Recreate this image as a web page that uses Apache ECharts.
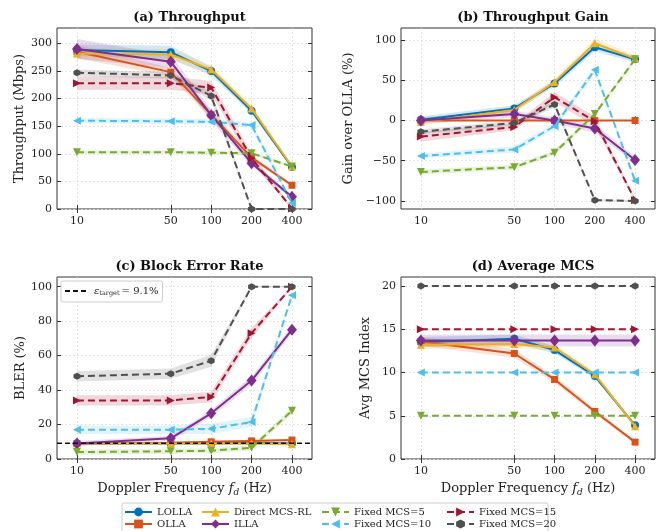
<!DOCTYPE html>
<html>
<head>
<meta charset="utf-8">
<script src="https://cdn.jsdelivr.net/npm/echarts@6/dist/echarts.min.js"></script>
<style>
html, body { margin: 0; padding: 0; background: #fff; }
#chart { width: 659px; height: 531px; }
</style>
</head>
<body>
<div id="chart"></div>
<script>
var freq = [10, 50, 100, 200, 400];
var methods = ['LOLLA', 'OLLA', 'Direct MCS-RL', 'ILLA', 'Fixed MCS=5', 'Fixed MCS=10', 'Fixed MCS=15', 'Fixed MCS=20'];

// (a) throughput in Mbps, one row per method
var throughput = [
    [288, 284, 250, 178, 76],
    [285, 248, 171, 93, 43],
    [282, 280, 253, 182, 77],
    [290, 267, 170, 83, 22],
    [103, 103, 102, 101, 77],
    [160, 159, 158, 152, 11],
    [228, 228, 220, 92, 1],
    [247, 242, 205, 0, 0]
];
var throughputSpread = [
    [10, 12, 8, 5, 3], [12, 8, 8, 5, 3], [10, 10, 8, 6, 3], [18, 12, 10, 6, 4],
    [3, 3, 3, 3, 3], [5, 5, 5, 5, 3], [12, 12, 12, 8, 2], [6, 6, 8, 2, 1]
];
// (b) gain over OLLA in %
var gain = [
    [1, 15, 46, 91, 76],
    [0, 0, 0, 0, 0],
    [-2, 13, 48, 96, 77],
    [0, 8, 0, -10, -49],
    [-64, -58, -40, 8, 76],
    [-44, -36, -7, 63, -75],
    [-20, -8, 29, -1, -99],
    [-14, -3, 20, -99, -100]
];
var gainSpread = [
    [4, 4, 4, 5, 4], [0, 0, 0, 0, 0], [4, 4, 4, 6, 4], [4, 4, 4, 5, 4],
    [3, 3, 3, 3, 3], [3, 4, 4, 4, 3], [6, 4, 6, 6, 2], [3, 3, 4, 1, 1]
];
// (c) BLER in %
var bler = [
    [9, 9, 9, 9.3, 9],
    [9, 9.5, 10, 10.5, 11],
    [9, 9, 9, 9, 8.5],
    [9, 12, 26.5, 45.5, 75],
    [4, 4.5, 4.8, 6.5, 28],
    [17, 17, 17.5, 21.5, 95],
    [34, 34, 36, 73, 100],
    [48, 49.5, 57, 100, 100]
];
var blerSpread = [
    [0.5, 0.5, 0.5, 0.5, 0.5], [0.6, 0.6, 0.6, 0.6, 0.6], [0.5, 0.5, 0.5, 0.5, 0.5], [1.5, 1.5, 2, 2.5, 2],
    [1.5, 1.5, 1.5, 1.5, 2], [2.5, 2.5, 3, 3, 1], [3, 3, 3, 3, 0.5], [3, 3, 3.5, 0.5, 0.5]
];
var blerTarget = 9.1;
// (d) average MCS index
var mcs = [
    [13.5, 13.9, 12.6, 9.6, 3.9],
    [13.6, 12.2, 9.2, 5.5, 1.95],
    [13.2, 13.3, 12.9, 9.8, 3.8],
    [13.7, 13.7, 13.7, 13.7, 13.7],
    [5, 5, 5, 5, 5],
    [10, 10, 10, 10, 10],
    [15, 15, 15, 15, 15],
    [20, 20, 20, 20, 20]
];
var mcsSpread = [
    [0.6, 0.5, 0.4, 0.3, 0.2], [0.5, 0.5, 0.4, 0.3, 0.2], [0.5, 0.5, 0.4, 0.3, 0.2], [0.7, 0.7, 0.7, 0.7, 0.7],
    [0, 0, 0, 0, 0], [0, 0, 0, 0, 0], [0, 0, 0, 0, 0], [0, 0, 0, 0, 0]
];

var xTicks = [10, 50, 100, 200, 400];
var yTicksA = [0, 50, 100, 150, 200, 250, 300];
var yTicksB = [-100, -50, 0, 50, 100];
var yTicksC = [0, 20, 40, 60, 80, 100];
var yTicksD = [0, 5, 10, 15, 20];

var colors = ['#0072BD', '#D95319', '#EDB120', '#7E2F8E', '#77AC30', '#4DBEEE', '#A2142F', '#505050'];
var hexagon = 'path://M0,-1L0.866,-0.5L0.866,0.5L0,1L-0.866,0.5L-0.866,-0.5Z';
var marks = [
    {s: 'circle', size: 8, rot: 0, dash: 'solid'},
    {s: 'rect', size: 7, rot: 0, dash: 'solid'},
    {s: 'triangle', size: 8, rot: 0, dash: 'solid'},
    {s: 'diamond', size: [10, 12], rot: 0, dash: 'solid'},
    {s: 'triangle', size: 8, rot: 180, dash: [7, 4]},
    {s: 'triangle', size: 8, rot: 90, dash: [7, 4]},
    {s: 'triangle', size: 8, rot: -90, dash: [7, 4]},
    {s: hexagon, size: 7, rot: 0, dash: [7, 4]}
];

var serif = 'DejaVu Serif';
var ink = '#333';

var panels = [
    {vals: throughput, spread: throughputSpread, left: 57, top: 28, w: 255, h: 181, ymin: 0, ymax: 328, yt: yTicksA,
     title: '(a) Throughput', yname: 'Throughput (Mbps)', gap: 31, xname: false},
    {vals: gain, spread: gainSpread, left: 401, top: 28, w: 254, h: 181, ymin: -110, ymax: 115, yt: yTicksB,
     title: '(b) Throughput Gain', yname: 'Gain over OLLA (%)', gap: 46, xname: false},
    {vals: bler, spread: blerSpread, left: 57, top: 277, w: 255, h: 182, ymin: 0, ymax: 105.6, yt: yTicksC,
     title: '(c) Block Error Rate', yname: 'BLER (%)', gap: 30, xname: true},
    {vals: mcs, spread: mcsSpread, left: 401, top: 277, w: 254, h: 182, ymin: 0, ymax: 21.05, yt: yTicksD,
     title: '(d) Average MCS', yname: 'Avg MCS Index', gap: 29, xname: true}
];

// shaded spread band drawn as one polygon through the axis scales
function bandSeries(gi, row, sp, color) {
    return {
        type: 'custom', xAxisIndex: gi * 2, yAxisIndex: gi * 2, silent: true, z: 1, clip: true,
        data: freq.map(function(f, i) { return [f, row[i] - sp[i], row[i] + sp[i]]; }),
        encode: {x: 0, y: [1, 2]},
        renderItem: function(params, api) {
            if (params.dataIndex !== 0) return null;
            var up = [], lo = [];
            for (var i = 0; i < freq.length; i++) {
                up.push(api.coord([freq[i], row[i] + sp[i]]));
                lo.unshift(api.coord([freq[i], row[i] - sp[i]]));
            }
            return {type: 'polygon', shape: {points: up.concat(lo)}, style: {fill: color, opacity: 0.17}};
        }
    };
}

var grids = [], xAxes = [], yAxes = [], titles = [], series = [];

panels.forEach(function(p, gi) {
    grids.push({left: p.left, top: p.top, width: p.w, height: p.h, show: true,
        borderColor: ink, borderWidth: 1, backgroundColor: 'transparent'});
    titles.push({text: p.title, left: p.left + p.w / 2, top: p.top - 22, textAlign: 'center',
        textStyle: {fontFamily: serif, fontWeight: 'bold', fontSize: 13, color: '#111'}});
    var xBase = {type: 'log', logBase: 10, min: 7.1, max: 564, gridIndex: gi,
        axisLine: {show: false},
        axisTick: {inside: true, length: 4, lineStyle: {color: ink}, customValues: xTicks},
        minorTick: {show: false}};
    xAxes.push(Object.assign({}, xBase, {
        position: 'bottom',
        axisLabel: {customValues: xTicks, fontFamily: serif, fontSize: 11, color: '#222', margin: 7},
        splitLine: {show: true, lineStyle: {color: '#ddd', type: [2, 2], width: 0.8}},
        name: p.xname ? 'Doppler Frequency {i|f}{s|d} (Hz)' : '',
        nameLocation: 'middle', nameGap: 22,
        nameTextStyle: {fontFamily: serif, fontSize: 13, color: '#222',
            rich: {i: {fontFamily: serif, fontStyle: 'italic', fontSize: 13, color: '#222'},
                   s: {fontFamily: serif, fontStyle: 'italic', fontSize: 9, color: '#222', padding: [7, 0, 0, 0]}}}
    }));
    xAxes.push(Object.assign({}, xBase, {position: 'top', axisLabel: {show: false}, splitLine: {show: false}}));
    var yBase = {type: 'value', min: p.ymin, max: p.ymax, gridIndex: gi,
        axisLine: {show: false},
        axisTick: {inside: true, length: 4, lineStyle: {color: ink}, customValues: p.yt}};
    yAxes.push(Object.assign({}, yBase, {
        position: 'left',
        axisLabel: {customValues: p.yt, fontFamily: serif, fontSize: 11, color: '#222', margin: 5,
            formatter: function(v) { return v < 0 ? '\u2212' + (-v) : String(v); }},
        splitLine: {show: true, lineStyle: {color: '#ddd', type: [2, 2], width: 0.8}},
        name: p.yname, nameLocation: 'middle', nameGap: p.gap,
        nameTextStyle: {fontFamily: serif, fontSize: 13, color: '#222'}
    }));
    yAxes.push(Object.assign({}, yBase, {position: 'right', axisLabel: {show: false}, splitLine: {show: false}}));

    p.vals.forEach(function(row, mi) {
        var sp = p.spread[mi];
        if (sp.some(function(v) { return v > 0; })) series.push(bandSeries(gi, row, sp, colors[mi]));
        var m = marks[mi];
        series.push({type: 'line', name: methods[mi], xAxisIndex: gi * 2, yAxisIndex: gi * 2,
            data: freq.map(function(f, i) { return [f, row[i]]; }),
            symbol: m.s, symbolSize: m.size, symbolRotate: m.rot, showAllSymbol: true,
            itemStyle: {color: colors[mi]},
            lineStyle: {color: colors[mi], width: 2, type: m.dash},
            z: 3 + mi});
    });
});

// BLER target: horizontal dashed line across panel (c), y from the axis scale
series.push({type: 'custom', xAxisIndex: 4, yAxisIndex: 4, silent: true, z: 20,
    data: [[freq[0], blerTarget]],
    renderItem: function(params, api) {
        var cs = params.coordSys;
        var y = api.coord([api.value(0), api.value(1)])[1];
        return {type: 'line', shape: {x1: cs.x, y1: y, x2: cs.x + cs.width, y2: y},
            style: {stroke: '#111', lineWidth: 1.6, lineDash: [5, 3]}};
    }});
// legend entry only
series.push({type: 'line', name: 'target', xAxisIndex: 4, yAxisIndex: 4, data: [],
    symbol: 'none', itemStyle: {color: '#111', opacity: 0}, lineStyle: {color: '#111', width: 1.6, type: [5, 3]}});

var legendText = {fontFamily: serif, fontSize: 10, color: '#222'};
var cols = [[methods[0], methods[1]], [methods[2], methods[3]], [methods[4], methods[5]], [methods[6], methods[7]]];
var colLeft = [124, 201, 321, 446];
var legends = cols.map(function(c, k) {
    return {data: c, orient: 'vertical', left: colLeft[k], top: 507, itemGap: 2, itemWidth: 27, itemHeight: 11,
        textStyle: legendText, selectedMode: false, padding: 0};
});
legends.push({data: [{name: 'target', itemStyle: {opacity: 0}}], left: 61, top: 281, orient: 'vertical',
    itemWidth: 24, itemHeight: 8, itemGap: 0,
    selectedMode: false, padding: [5, 4, 5, 3], borderColor: '#ccc', borderWidth: 1, borderRadius: 2,
    backgroundColor: 'rgba(255,255,255,0.85)',
    formatter: function() { return '{e|\u03b5}{s|target}{t|= 9.1%}'; },
    textStyle: {fontFamily: serif, fontSize: 10, color: '#222',
        rich: {e: {fontFamily: serif, fontStyle: 'italic', fontSize: 10},
               s: {fontFamily: serif, fontSize: 6.5, padding: [5, 2, 0, 0]},
               t: {fontFamily: serif, fontSize: 10}}}});

var chart = echarts.init(document.getElementById('chart'), null, {renderer: 'canvas'});
chart.setOption({
    animation: false,
    title: titles,
    grid: grids,
    xAxis: xAxes,
    yAxis: yAxes,
    legend: legends,
    series: series,
    graphic: [{type: 'rect', shape: {x: 122, y: 503, width: 426, height: 34, r: 2}, silent: true,
        style: {fill: 'none', stroke: '#ccc', lineWidth: 1}}]
});
</script>
</body>
</html>
